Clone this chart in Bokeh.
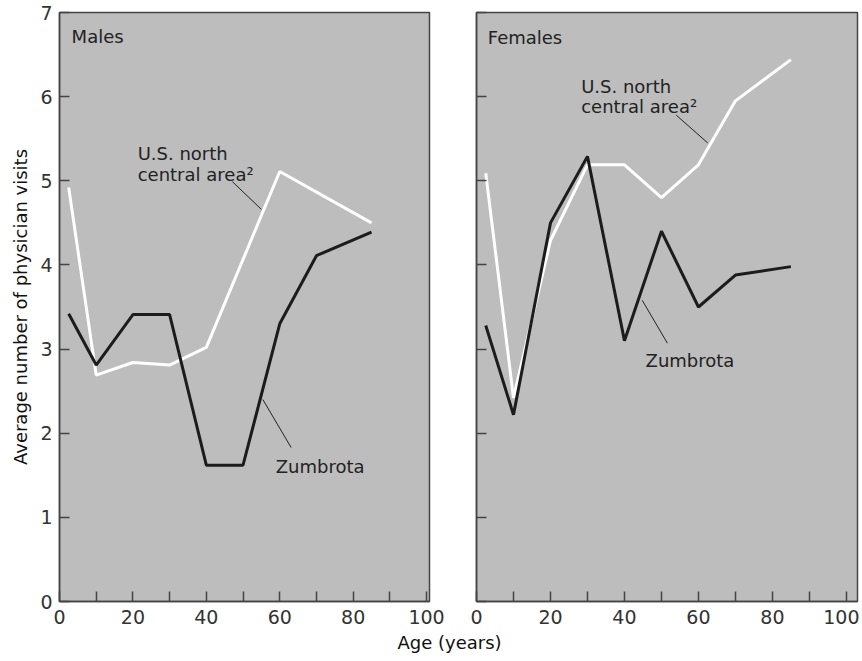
from bokeh.plotting import figure
from bokeh.layouts import row, column
from bokeh.models import FixedTicker, ColumnDataSource
from bokeh.embed import file_html
from bokeh.resources import INLINE
from bokeh.core.properties import value

# ---- data ----
ages = [2.5, 10, 20, 30, 40, 50, 60, 70, 85]
male_zumbrota = [3.42, 2.81, 3.41, 3.41, 1.62, 1.62, 3.30, 4.11, 4.39]
male_us_ages = [2.5, 10, 20, 30, 40, 60, 85]
male_us = [4.92, 2.69, 2.84, 2.81, 3.02, 5.11, 4.50]
female_zumbrota = [3.28, 2.22, 4.50, 5.29, 3.10, 4.40, 3.50, 3.88, 3.98]
female_us = [5.09, 2.42, 4.29, 5.19, 5.19, 4.80, 5.19, 5.95, 6.44]

x_ticks = [0, 20, 40, 60, 80, 100]
x_minor = [10, 30, 50, 70, 90]
y_ticks = [0, 1, 2, 3, 4, 5, 6, 7]

panel_titles = ["Males", "Females"]
us_label = ["U.S. north", "central area\u00b2"]
zum_label = "Zumbrota"
x_title = "Age (years)"
y_title = "Average number of physician visits"

FONT = "DejaVu Sans"
BG = "#bdbdbd"
FRAME = "#444444"
DARK = "#1c1c1c"
TICKC = "#333333"


def make_panel(x_end, min_left, min_right, frame_w, show_ylabels):
    p = figure(frame_width=frame_w, frame_height=589,
               x_range=(0, x_end), y_range=(0, 7),
               min_border_left=min_left, min_border_right=min_right,
               min_border_top=12, min_border_bottom=28,
               toolbar_location=None, output_backend="svg",
               background_fill_color=BG, border_fill_color="white")
    p.grid.visible = False
    p.outline_line_color = FRAME
    p.outline_line_width = 1.5
    for ax in (p.xaxis[0], p.yaxis[0]):
        ax.axis_line_color = FRAME
        ax.axis_line_width = 1.5
        ax.major_tick_line_color = FRAME
        ax.minor_tick_line_color = FRAME
        ax.major_tick_line_width = 1.5
        ax.minor_tick_line_width = 1.5
        ax.major_tick_in = 10
        ax.major_tick_out = 0
        ax.minor_tick_in = 10
        ax.minor_tick_out = 0
        ax.major_label_text_font = FONT
        ax.major_label_text_font_size = "19px"
        ax.major_label_text_color = TICKC
    p.xaxis.ticker = FixedTicker(ticks=x_ticks, minor_ticks=x_minor)
    p.xaxis.major_label_standoff = 8
    p.yaxis.ticker = FixedTicker(ticks=y_ticks)
    p.yaxis.minor_tick_line_color = None
    p.yaxis.major_label_standoff = 7
    if show_ylabels:
        p.yaxis.axis_label = y_title
        p.yaxis.axis_label_text_font = FONT
        p.yaxis.axis_label_text_font_size = "18px"
        p.yaxis.axis_label_text_font_style = "normal"
        p.yaxis.axis_label_text_color = "#111111"
        p.yaxis.axis_label_standoff = 6
    else:
        p.yaxis.major_label_overrides = {t: "" for t in y_ticks}
    return p


def add_text(p, xs, ys, texts, size="18px"):
    src = ColumnDataSource(dict(x=xs, y=ys, t=texts))
    p.text(x="x", y="y", text="t", source=src, text_font=value(FONT),
           text_font_size=size, text_color="#222222",
           text_baseline="alphabetic", text_align="left")


# ---- Males ----
p1 = make_panel(100.8, 59, 24, 370, True)
p1.line(male_us_ages, male_us, line_color="white", line_width=3)
p1.line(ages, male_zumbrota, line_color=DARK, line_width=3)
add_text(p1, [3.3], [6.71], [panel_titles[0]])
add_text(p1, [21.3, 21.3], [5.32, 5.07], us_label)
add_text(p1, [58.9], [1.61], [zum_label])
p1.segment(x0=[47.1, 55.4], y0=[4.99, 2.40], x1=[55.0, 63.1], y1=[4.66, 1.83],
           line_color="#222222", line_width=1)

# ---- Females ----
p2 = make_panel(103.0, 23, 2, 381, False)
p2.line(ages, female_us, line_color="white", line_width=3)
p2.line(ages, female_zumbrota, line_color=DARK, line_width=3)
add_text(p2, [3.05], [6.70], [panel_titles[1]])
add_text(p2, [28.3, 28.3], [6.12, 5.88], us_label)
add_text(p2, [45.7], [2.87], [zum_label])
p2.segment(x0=[54.0, 44.8], y0=[5.78, 3.58], x1=[62.5, 51.6], y1=[5.45, 3.07],
           line_color="#222222", line_width=1)

# ---- x axis title strip (pixel-scaled ranges) ----
p3 = figure(width=859, height=26, x_range=(0, 859), y_range=(0, 26),
            toolbar_location=None, output_backend="svg",
            min_border=0, outline_line_color=None)
p3.axis.visible = False
p3.grid.visible = False
p3.text(x=[449], y=[13], text=[x_title], text_font=value(FONT),
        text_font_size="18px", text_color="#111111",
        text_align="center", text_baseline="middle")

layout = column(row(p1, p2), p3)
open("out.html", "w").write(file_html(layout, INLINE))
